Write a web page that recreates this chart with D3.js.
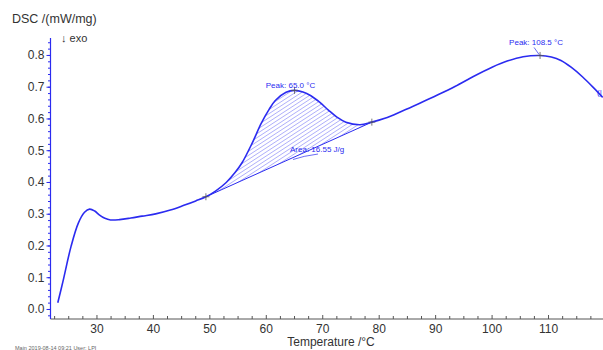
<!DOCTYPE html>
<html lang="en">
<head>
  <meta charset="UTF-8">
  <title>DSC curve</title>
  <style>
    * { margin: 0; padding: 0; box-sizing: border-box; }
    body { background: #fff; font-family: "Liberation Sans", Arial, sans-serif; }
    svg { display: block; }
  </style>
</head>
<body>
  <div id="chart"></div>

  <script src="https://d3js.org/d3.v7.min.js"></script>
  <script>
  // DSC signal
  var temps = [23.06, 24.0, 25.4, 26.7, 27.8, 28.7, 29.6, 30.4, 31.4, 32.4, 34, 36, 38, 40.4, 43, 45.4, 47.5,
               49.3, 51, 52.9, 54.5, 55.7, 57.5, 59.1, 60.5, 61.6, 63.5, 65.0, 66.5, 67.9, 69.5, 71.0, 72.5, 74.1, 76.6,
               78.7, 81, 84.1, 87, 90.4, 93.5, 96.6, 100, 102.8, 105.5, 108.5, 110.5, 112.2, 114, 116, 118, 119.6];
  var dsc = [0.021, 0.09, 0.198, 0.272, 0.306, 0.316, 0.310, 0.298, 0.287, 0.282, 0.283, 0.288, 0.294, 0.301, 0.313, 0.328, 0.342,
             0.355, 0.373, 0.400, 0.432, 0.462, 0.524, 0.586, 0.630, 0.658, 0.684, 0.690, 0.685, 0.673, 0.652, 0.628, 0.606, 0.590, 0.582,
             0.590, 0.602, 0.625, 0.648, 0.676, 0.703, 0.733, 0.763, 0.783, 0.796, 0.800, 0.795, 0.784, 0.763, 0.733, 0.698, 0.668];

  var xTicks = [30, 40, 50, 60, 70, 80, 90, 100, 110];
  var yTicks = [0.0, 0.1, 0.2, 0.3, 0.4, 0.5, 0.6, 0.7, 0.8];

  // integration limits and peaks
  var areaStart = [49.3, 0.355];
  var areaEnd = [78.7, 0.590];
  var peaks = [[65.0, 0.690, "Peak: 65.0 °C"], [108.5, 0.800, "Peak: 108.5 °C"]];
  var areaLabel = "Area: 16.55 J/g";

  var W = 603, H = 350;
  var blue = "#2b2bf0";

  var svg = d3.select("#chart").append("svg")
    .attr("width", W).attr("height", H);

  var x = d3.scaleLinear().domain([21.77, 119.65]).range([50.5, 603]);
  var y = d3.scaleLinear().domain([-0.03, 0.855]).range([319, 38]);

  var data = temps.map(function(t, i) { return [t, dsc[i]]; });

  // hatch pattern, lines rising to the right
  var defs = svg.append("defs");
  defs.append("pattern")
      .attr("id", "hatch")
      .attr("patternUnits", "userSpaceOnUse")
      .attr("width", 3.4).attr("height", 4)
      .attr("patternTransform", "rotate(57)")
    .append("line")
      .attr("x1", 0).attr("y1", 0).attr("x2", 0).attr("y2", 4)
      .attr("stroke", blue).attr("stroke-width", 0.7);

  // X axis (ticks point up)
  var xMinor = d3.range(22.5, 120, 2.5);
  var gx = svg.append("g").attr("transform", "translate(0,319)");
  gx.append("line").attr("x1", 50.5).attr("x2", 603).attr("stroke", "#555").attr("stroke-width", 1);
  gx.selectAll("line.minor").data(xMinor).enter().append("line")
      .attr("class", "minor")
      .attr("x1", function(d) { return x(d); }).attr("x2", function(d) { return x(d); })
      .attr("y1", 0).attr("y2", function(d) { return d % 10 === 0 ? -4 : -3; })
      .attr("stroke", "#555");
  gx.selectAll("text").data(xTicks).enter().append("text")
      .attr("x", function(d) { return x(d); })
      .attr("y", 14)
      .attr("text-anchor", "middle")
      .style("font-size", "12px").style("fill", "#333")
      .text(function(d) { return d; });

  // Y axis (blue, ticks point left)
  var yMinor = d3.range(-0.02, 0.86, 0.02);
  var gy = svg.append("g").attr("transform", "translate(50.5,0)");
  gy.append("line").attr("y1", 38).attr("y2", 319).attr("stroke", blue).attr("stroke-width", 1.2);
  gy.selectAll("line.minor").data(yMinor).enter().append("line")
      .attr("class", "minor")
      .attr("y1", function(d) { return y(d); }).attr("y2", function(d) { return y(d); })
      .attr("x1", 0).attr("x2", -2.5)
      .attr("stroke", blue);
  gy.selectAll("line.major").data(yTicks).enter().append("line")
      .attr("class", "major")
      .attr("y1", function(d) { return y(d); }).attr("y2", function(d) { return y(d); })
      .attr("x1", 0).attr("x2", -4)
      .attr("stroke", blue);
  gy.selectAll("text").data(yTicks).enter().append("text")
      .attr("x", -6)
      .attr("y", function(d) { return y(d) + 4; })
      .attr("text-anchor", "end")
      .style("font-size", "12px").style("fill", "#333")
      .text(function(d) { return d.toFixed(1); });

  // axis titles
  svg.append("text").attr("x", 12).attr("y", 23)
    .style("font-size", "12.5px").style("fill", "#333").text("DSC /(mW/mg)");
  svg.append("text").attr("x", 61).attr("y", 42)
    .style("font-size", "11px").style("fill", "#333").text("↓ exo");
  svg.append("text").attr("x", 331).attr("y", 346).attr("text-anchor", "middle")
    .style("font-size", "12px").style("fill", "#333").text("Temperature /°C");
  svg.append("text").attr("x", 15).attr("y", 350)
    .style("font-size", "5.5px").style("fill", "#666")
    .text("Main    2019-08-14 09:21     User: LPI");

  // hatched area between curve and baseline
  var inside = data.filter(function(d) { return d[0] >= areaStart[0] && d[0] <= areaEnd[0]; });
  function base(t) {
    return areaStart[1] + (t - areaStart[0]) * (areaEnd[1] - areaStart[1]) / (areaEnd[0] - areaStart[0]);
  }
  svg.append("path")
    .datum(inside)
    .attr("d", d3.area()
      .x(function(d) { return x(d[0]); })
      .y0(function(d) { return y(base(d[0])); })
      .y1(function(d) { return y(d[1]); })
      .curve(d3.curveCatmullRom))
    .attr("fill", "url(#hatch)");

  // baseline
  svg.append("line")
    .attr("x1", x(areaStart[0])).attr("y1", y(areaStart[1]))
    .attr("x2", x(areaEnd[0])).attr("y2", y(areaEnd[1]))
    .attr("stroke", blue).attr("stroke-width", 1);

  // main curve
  svg.append("path")
    .datum(data)
    .attr("d", d3.line()
      .x(function(d) { return x(d[0]); })
      .y(function(d) { return y(d[1]); })
      .curve(d3.curveCatmullRom))
    .attr("fill", "none")
    .attr("stroke", blue)
    .attr("stroke-width", 1.6);

  // + markers
  var marks = [areaStart, areaEnd, peaks[0], peaks[1]];
  marks.forEach(function(m) {
    var cx = x(m[0]), cy = y(m[1]);
    svg.append("path")
      .attr("d", "M" + (cx - 3.5) + "," + cy + "H" + (cx + 3.5) + "M" + cx + "," + (cy - 3.5) + "V" + (cy + 3.5))
      .attr("stroke", "#555").attr("stroke-width", 0.8);
  });

  // annotations
  svg.append("text")
    .attr("x", x(peaks[0][0]) - 4).attr("y", y(peaks[0][1]) - 2)
    .attr("text-anchor", "middle")
    .style("font-size", "8px").style("fill", blue).text(peaks[0][2]);

  svg.append("text")
    .attr("x", x(peaks[1][0]) - 4).attr("y", y(peaks[1][1]) - 10)
    .attr("text-anchor", "middle")
    .style("font-size", "8px").style("fill", blue).text(peaks[1][2]);
  svg.append("line")
    .attr("x1", x(peaks[1][0]) - 6).attr("y1", y(peaks[1][1]) - 8)
    .attr("x2", x(peaks[1][0]) - 1).attr("y2", y(peaks[1][1]) - 1)
    .attr("stroke", blue).attr("stroke-width", 0.7);

  svg.append("text")
    .attr("x", 290).attr("y", 152)
    .style("font-size", "8px").style("fill", blue).text(areaLabel);
  svg.append("path")
    .attr("d", "M293,159.5 Q303,156 318,154")
    .attr("fill", "none").attr("stroke", blue).attr("stroke-width", 0.7);

  // clipped label at right edge
  svg.append("text")
    .attr("x", 597).attr("y", 95)
    .style("font-size", "8px").style("fill", blue).text("(|");
  </script>
</body>
</html>
